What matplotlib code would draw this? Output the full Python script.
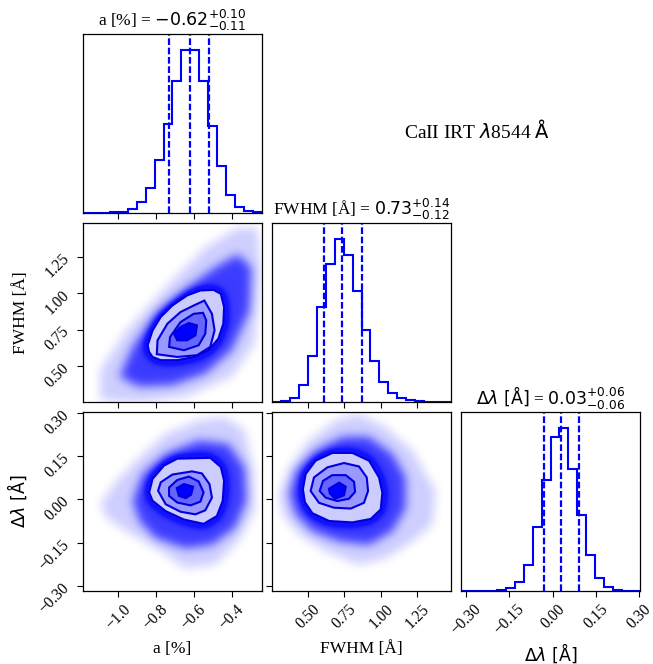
import numpy as np
import matplotlib
matplotlib.use("Agg")
import matplotlib.pyplot as plt
from matplotlib.path import Path
from matplotlib.patches import Polygon

plt.rcParams['font.family'] = ['Liberation Serif', 'DejaVu Sans']
plt.rcParams['mathtext.fontset'] = 'dejavusans'
plt.rcParams['axes.unicode_minus'] = True

# ---- parameters -----------------------------------------------------------
labels = ["a [%]", "FWHM [Å]", r"$\Delta\lambda\ \mathrm{[\AA]}$"]
ranges = [(-1.184, -0.240), (0.253, 1.481), (-0.318, 0.303)]
ticks = [[-1.0, -0.8, -0.6, -0.4],
         [0.50, 0.75, 1.00, 1.25],
         [-0.30, -0.15, 0.00, 0.15, 0.30]]
tick_labels = [["\u22121.0", "\u22120.8", "\u22120.6", "\u22120.4"],
               ["0.50", "0.75", "1.00", "1.25"],
               ["\u22120.30", "\u22120.15", "0.00", "0.15", "0.30"]]

# 16th / 50th / 84th percentiles
a_quantiles = [-0.73, -0.62, -0.52]
fwhm_quantiles = [0.61, 0.73, 0.87]
dl_quantiles = [-0.03, 0.03, 0.09]

# marginal histogram counts (20 bins across each range)
a_counts = [0, 0.5, 1, 2, 4, 11, 32, 74, 158, 268, 396, 488, 488, 396, 260,
            141, 54, 17, 6, 2]
fwhm_counts = [0.3, 3, 11, 51, 138, 285, 413, 488, 440, 333, 215, 123, 60, 27,
               13, 6, 3, 1, 0.5, 0.3]
dl_counts = [0, 0, 0, 0.5, 3, 10, 27, 79, 191, 335, 462, 489, 368, 228, 107,
             39, 12, 4, 1, 0]

# sample cloud envelopes (sparse, dense) and credible contours (outer -> inner)
fwhm_a_cloud = [
    [(-1.095, 0.266), (-1.095, 0.471), (-0.956, 0.744), (-0.747, 1.040), (-0.539, 1.313),
     (-0.365, 1.450), (-0.261, 1.450), (-0.244, 1.108), (-0.278, 0.653), (-0.400, 0.425),
     (-0.643, 0.288), (-0.886, 0.245)],
    [(-0.991, 0.425), (-0.922, 0.630), (-0.800, 0.858), (-0.643, 1.029), (-0.487, 1.177),
     (-0.365, 1.268), (-0.296, 1.177), (-0.304, 0.881), (-0.400, 0.608), (-0.539, 0.448),
     (-0.713, 0.368), (-0.886, 0.357)],
]
fwhm_a_levels = [
    [(-0.835, 0.596), (-0.843, 0.642), (-0.817, 0.744), (-0.774, 0.836), (-0.713, 0.915),
     (-0.635, 0.984), (-0.565, 1.018), (-0.496, 1.022), (-0.457, 0.995), (-0.440, 0.904),
     (-0.444, 0.790), (-0.470, 0.688), (-0.522, 0.608), (-0.600, 0.562), (-0.687, 0.540),
     (-0.774, 0.540), (-0.817, 0.562)],
    [(-0.795, 0.581), (-0.791, 0.676), (-0.739, 0.790), (-0.670, 0.870), (-0.600, 0.915),
     (-0.544, 0.949), (-0.504, 0.858), (-0.490, 0.744), (-0.513, 0.631), (-0.583, 0.574),
     (-0.687, 0.562)],
    [(-0.730, 0.631), (-0.725, 0.699), (-0.670, 0.801), (-0.600, 0.858), (-0.551, 0.865),
     (-0.534, 0.813), (-0.539, 0.722), (-0.574, 0.642), (-0.652, 0.608)],
    [(-0.704, 0.722), (-0.670, 0.767), (-0.626, 0.795), (-0.583, 0.779), (-0.591, 0.710),
     (-0.635, 0.676), (-0.687, 0.676)],
]

dl_a_cloud = [
    [(-1.095, -0.017), (-1.008, 0.064), (-0.886, 0.146), (-0.747, 0.228), (-0.574, 0.275),
     (-0.434, 0.287), (-0.330, 0.240), (-0.278, 0.088), (-0.278, -0.041), (-0.365, -0.146),
     (-0.487, -0.228), (-0.643, -0.240), (-0.800, -0.170), (-0.956, -0.111), (-1.060, -0.064)],
    [(-0.922, -0.006), (-0.869, 0.088), (-0.747, 0.158), (-0.574, 0.205), (-0.417, 0.193),
     (-0.330, 0.111), (-0.321, -0.006), (-0.382, -0.099), (-0.504, -0.158), (-0.643, -0.170),
     (-0.800, -0.135), (-0.886, -0.076)],
]
dl_a_levels = [
    [(-0.835, 0.024), (-0.817, 0.071), (-0.757, 0.117), (-0.687, 0.141), (-0.513, 0.144),
     (-0.457, 0.112), (-0.440, 0.065), (-0.447, -0.005), (-0.478, -0.058), (-0.548, -0.085),
     (-0.652, -0.070), (-0.748, -0.041), (-0.817, -0.005)],
    [(-0.788, 0.030), (-0.774, 0.059), (-0.713, 0.086), (-0.609, 0.097), (-0.557, 0.090),
     (-0.517, 0.053), (-0.504, 0.006), (-0.539, -0.038), (-0.591, -0.052), (-0.670, -0.043),
     (-0.748, -0.017)],
    [(-0.730, 0.041), (-0.687, 0.067), (-0.626, 0.079), (-0.574, 0.062), (-0.548, 0.024),
     (-0.565, -0.008), (-0.617, -0.021), (-0.687, -0.011), (-0.730, 0.012)],
    [(-0.690, 0.039), (-0.652, 0.053), (-0.603, 0.044), (-0.614, 0.016), (-0.643, 0.004),
     (-0.678, 0.012)],
]

dl_fwhm_cloud = [
    [(0.301, 0.018), (0.370, 0.111), (0.507, 0.205), (0.690, 0.275), (0.850, 0.298),
     (1.034, 0.251), (1.217, 0.170), (1.377, 0.029), (1.354, -0.088), (1.217, -0.146),
     (1.034, -0.205), (0.850, -0.228), (0.622, -0.181), (0.438, -0.123), (0.324, -0.053)],
    [(0.370, 0.018), (0.416, 0.100), (0.553, 0.170), (0.736, 0.217), (0.919, 0.217),
     (1.079, 0.158), (1.171, 0.076), (1.171, -0.029), (1.079, -0.111), (0.919, -0.158),
     (0.713, -0.146), (0.530, -0.111), (0.416, -0.053)],
]
dl_fwhm_levels = [
    [(0.465, 0.035), (0.484, 0.088), (0.552, 0.134), (0.667, 0.161), (0.804, 0.161),
     (0.919, 0.134), (0.987, 0.076), (1.010, 0.023), (0.999, -0.035), (0.930, -0.068),
     (0.804, -0.080), (0.644, -0.075), (0.530, -0.048), (0.479, -0.010)],
    [(0.518, 0.029), (0.541, 0.076), (0.633, 0.111), (0.747, 0.126), (0.850, 0.114),
     (0.903, 0.076), (0.912, 0.029), (0.884, -0.012), (0.793, -0.032), (0.678, -0.029),
     (0.575, -0.012)],
    [(0.580, 0.029), (0.603, 0.064), (0.667, 0.084), (0.759, 0.084), (0.816, 0.061),
     (0.823, 0.026), (0.781, 0.002), (0.701, -0.006), (0.621, 0.006)],
    [(0.644, 0.037), (0.713, 0.058), (0.759, 0.044), (0.747, 0.014), (0.685, 0.002),
     (0.649, 0.021)],
]

title_text = r"CaII IRT $\lambda$8544 $\mathrm{\AA}$"

# ---- figure ----------------------------------------------------------------
W, H = 653, 664
fig = plt.figure(figsize=(W / 100, H / 100), dpi=100)
col_x = [83, 272, 461]
row_top = [34, 223, 412]
size = 179

COLOR = "blue"
LINE_COLOR = "#0000dd"
FILLS = ["#ccccff", "#9999ff", "#6666ff", "#0000ff"]
CLOUD_WEIGHTS = [0.2, 0.6]     # sparse, dense envelopes
CORE_WEIGHT = 1.1              # halo just outside the outer contour


def new_axes(r, c):
    return fig.add_axes([col_x[c] / W, 1 - (row_top[r] + size) / H, size / W, size / H])


def smooth(a, s):
    k = np.exp(-0.5 * (np.arange(-3 * s, 3 * s + 1) / s) ** 2)
    k /= k.sum()
    a = np.apply_along_axis(lambda v: np.convolve(v, k, mode="same"), 0, a)
    a = np.apply_along_axis(lambda v: np.convolve(v, k, mode="same"), 1, a)
    return a


def style_ticks(ax):
    ax.tick_params(direction="out", length=4, width=0.8, labelsize=11.2)
    for s in ax.spines.values():
        s.set_linewidth(0.9)


def draw_hist(ax, counts, rng, q, label):
    edges = np.linspace(rng[0], rng[1], len(counts) + 1)
    ax.stairs(counts, edges, color=COLOR, lw=1.5, baseline=0)
    for v in q:
        ax.axvline(v, color=COLOR, lw=1.6, dashes=(3.0, 1.2))
    ax.set_xlim(rng)
    ax.set_ylim(0, 1.1 * max(counts))
    ax.set_yticks([])
    med, lo, up = q[1], q[1] - q[0], q[2] - q[1]
    ax.set_title(f"{label} = ${med:.2f}^{{+{up:.2f}}}_{{-{lo:.2f}}}$", fontsize=12.5)


def draw_2d(ax, cloud, levels, xr, yr):
    n = 260
    xs = np.linspace(xr[0], xr[1], n)
    ys = np.linspace(yr[0], yr[1], n)
    X, Y = np.meshgrid(xs, ys)
    pts = np.column_stack([X.ravel(), Y.ravel()])
    field = np.zeros(n * n)
    for poly, w in zip(cloud, CLOUD_WEIGHTS):
        field += w * Path(poly).contains_points(pts)
    field += CORE_WEIGHT * Path(levels[0]).contains_points(pts)
    field = smooth(field.reshape(n, n), 7)
    rgba = np.zeros((n, n, 4))
    rgba[..., 0] = 0.04
    rgba[..., 1] = 0.04
    rgba[..., 2] = 1.0
    rgba[..., 3] = np.clip(field, 0, 0.97)
    ax.imshow(rgba, extent=[xr[0], xr[1], yr[0], yr[1]], origin="lower",
              aspect="auto", interpolation="bilinear", zorder=1)
    for poly, col in zip(levels, FILLS):
        ax.add_patch(Polygon(poly, closed=True, facecolor=col, edgecolor=LINE_COLOR,
                             lw=1.5, zorder=2))
    ax.set_xlim(xr)
    ax.set_ylim(yr)


def set_xticks(ax, i, show):
    ax.set_xticks(ticks[i])
    if show:
        ax.set_xticklabels(tick_labels[i], rotation=45)
        ax.set_xlabel(labels[i], fontsize=12.5)
        ax.xaxis.set_label_coords(0.5, -0.28)
    else:
        ax.set_xticklabels([])


def set_yticks(ax, i, show):
    ax.set_yticks(ticks[i])
    if show:
        ax.set_yticklabels(tick_labels[i], rotation=45)
        ax.set_ylabel(labels[i], fontsize=12.5)
        ax.yaxis.set_label_coords(-0.3, 0.5)
    else:
        ax.set_yticklabels([])


# diagonal
ax00 = new_axes(0, 0)
draw_hist(ax00, a_counts, ranges[0], a_quantiles, labels[0])
set_xticks(ax00, 0, False)

ax11 = new_axes(1, 1)
draw_hist(ax11, fwhm_counts, ranges[1], fwhm_quantiles, labels[1])
set_xticks(ax11, 1, False)

ax22 = new_axes(2, 2)
draw_hist(ax22, dl_counts, ranges[2], dl_quantiles, labels[2])
set_xticks(ax22, 2, True)

# off-diagonal
ax10 = new_axes(1, 0)
draw_2d(ax10, fwhm_a_cloud, fwhm_a_levels, ranges[0], ranges[1])
set_xticks(ax10, 0, False)
set_yticks(ax10, 1, True)

ax20 = new_axes(2, 0)
draw_2d(ax20, dl_a_cloud, dl_a_levels, ranges[0], ranges[2])
set_xticks(ax20, 0, True)
set_yticks(ax20, 2, True)

ax21 = new_axes(2, 1)
draw_2d(ax21, dl_fwhm_cloud, dl_fwhm_levels, ranges[1], ranges[2])
set_xticks(ax21, 1, True)
set_yticks(ax21, 2, False)

for ax in (ax00, ax11, ax22, ax10, ax20, ax21):
    style_ticks(ax)

fig.text(477 / W, 1 - 130 / H, title_text, ha="center", va="center", fontsize=14)

fig.savefig("out.png", dpi=100)
